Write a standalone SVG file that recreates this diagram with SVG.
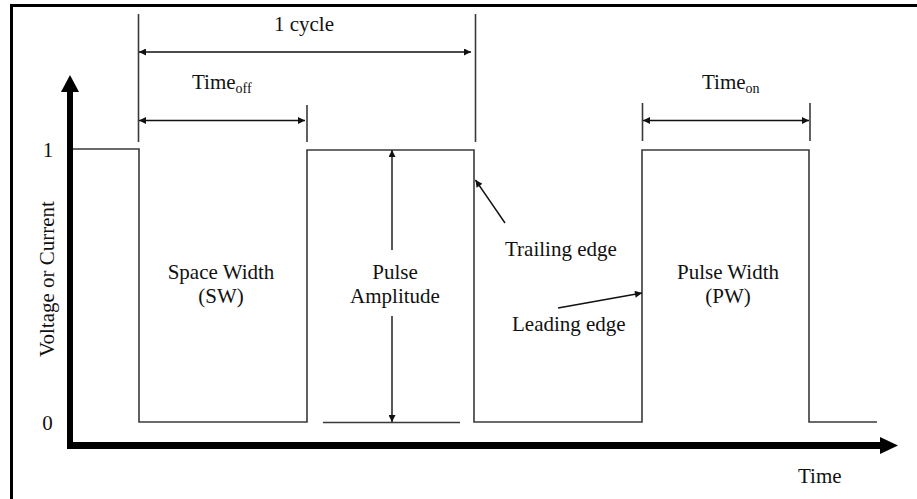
<svg xmlns="http://www.w3.org/2000/svg" width="917" height="499" viewBox="0 0 917 499">
<style>
text{font-family:"Liberation Serif","Times New Roman",serif;font-size:21px;fill:#111}
.wave{fill:none;stroke:#3a3a3a;stroke-width:1.6}
.dim{fill:none;stroke:#111;stroke-width:1.4}
.ext{fill:none;stroke:#3a3a3a;stroke-width:1.6}
.sub{font-size:14px}
</style>
<defs>
<marker id="ah" viewBox="0 0 10 10" refX="10" refY="5" markerWidth="8" markerHeight="7" markerUnits="userSpaceOnUse" orient="auto-start-reverse">
<path d="M0,0 L10,5 L0,10 z" fill="#111"/>
</marker>
</defs>
<rect width="917" height="499" fill="#fff"/>
<g id="frame">
<line x1="11.5" y1="5.5" x2="917" y2="5.5" stroke="#000" stroke-width="3"/>
<line x1="11.5" y1="4" x2="11.5" y2="499" stroke="#000" stroke-width="3"/>
</g>
<g id="axes">
<line x1="70" y1="449" x2="70" y2="90" stroke="#000" stroke-width="6"/>
<polygon points="70,75 79,92 61,92" fill="#000"/>
<line x1="67" y1="445.5" x2="882" y2="445.5" stroke="#000" stroke-width="7"/>
<polygon points="898,445.5 880,437 880,454" fill="#000"/>
</g>
<g id="waveform">
<polyline class="wave" points="73,149 139,149 139,422 307,422 307,150 474,150 474,422 642,422 642,150 809,150 809,422 877,422"/>
<line class="wave" x1="323" y1="422.5" x2="460" y2="422.5"/>
</g>
<g id="connectors">
<line class="ext" x1="138.5" y1="14" x2="138.5" y2="142"/>
<line class="ext" x1="475.5" y1="14" x2="475.5" y2="142"/>
<line class="ext" x1="307" y1="105" x2="307" y2="142"/>
<line class="ext" x1="642.5" y1="103" x2="642.5" y2="141"/>
<line class="ext" x1="810" y1="103" x2="810" y2="141"/>
<line class="dim" x1="139" y1="52" x2="471" y2="52" marker-start="url(#ah)" marker-end="url(#ah)"/>
<line class="dim" x1="139" y1="120.5" x2="305" y2="120.5" marker-start="url(#ah)" marker-end="url(#ah)"/>
<line class="dim" x1="643" y1="120.5" x2="809" y2="120.5" marker-start="url(#ah)" marker-end="url(#ah)"/>
<line class="dim" x1="392" y1="150" x2="392" y2="250" marker-start="url(#ah)"/>
<line class="dim" x1="392" y1="316" x2="392" y2="422" marker-end="url(#ah)"/>
<line class="dim" x1="505" y1="223" x2="475.5" y2="180" marker-end="url(#ah)"/>
<line class="dim" x1="558" y1="308" x2="642" y2="293" marker-end="url(#ah)"/>
</g>
<g id="label-cycle"><text x="304" y="31" text-anchor="middle">1 cycle</text></g>
<g id="label-timeoff"><text x="192" y="89">Time<tspan class="sub" dy="4">off</tspan></text></g>
<g id="label-timeon"><text x="702" y="89">Time<tspan class="sub" dy="4">on</tspan></text></g>
<g id="label-one"><text x="48" y="157" text-anchor="middle">1</text></g>
<g id="label-zero"><text x="47.5" y="430" text-anchor="middle">0</text></g>
<g id="label-yaxis"><text transform="translate(54,279) rotate(-90)" text-anchor="middle">Voltage or Current</text></g>
<g id="label-sw"><text x="221" y="279" text-anchor="middle">Space Width</text><text x="221" y="303" text-anchor="middle">(SW)</text></g>
<g id="label-pa"><text x="395" y="279" text-anchor="middle">Pulse</text><text x="395" y="303" text-anchor="middle">Amplitude</text></g>
<g id="label-pw"><text x="728" y="279" text-anchor="middle">Pulse Width</text><text x="728" y="303" text-anchor="middle">(PW)</text></g>
<g id="label-trailing"><text x="505" y="256">Trailing edge</text></g>
<g id="label-leading"><text x="512" y="331">Leading edge</text></g>
<g id="label-time"><text x="798" y="483">Time</text></g>
</svg>
